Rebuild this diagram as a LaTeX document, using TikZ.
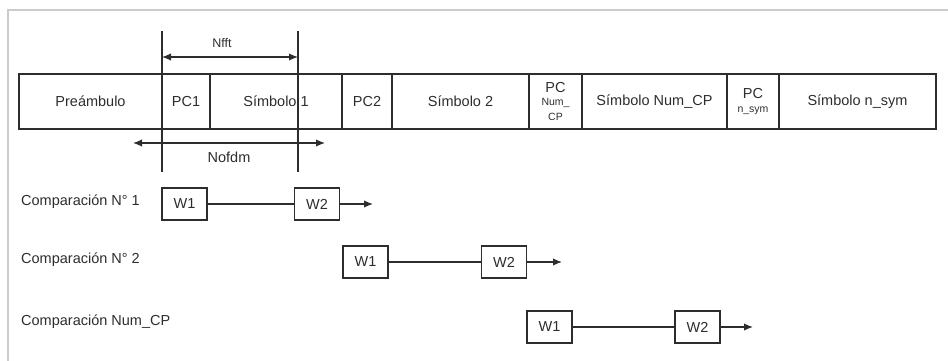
\documentclass[tikz,border=0pt]{standalone}
\usepackage{fontspec}
\setmainfont{Liberation Sans}
\usepackage{tikz}
\usetikzlibrary{arrows.meta,positioning,calc}
\definecolor{inkgrey}{RGB}{45,45,45}
\definecolor{framegrey}{RGB}{204,204,204}
\newcommand{\smallfnt}{\fontsize{10.5}{11}\selectfont}
\tikzset{
  base/.style={font=\fontsize{14.5}{17}\selectfont, align=center, inner sep=0pt, text=inkgrey},
  cell/.style={base, rectangle, draw=inkgrey, line width=1.4pt, minimum height=55pt, minimum width=#1},
  wbox/.style={base, rectangle, draw=inkgrey, line width=1.4pt, minimum height=32pt, minimum width=45pt},
  rowlbl/.style={base, anchor=west},
  arr/.style={-{Latex[length=9pt,width=7.5pt]}, line width=1.4pt, draw=inkgrey},
  arr2/.style={{Latex[length=9pt,width=7.5pt]}-{Latex[length=9pt,width=7.5pt]}, line width=1.4pt, draw=inkgrey},
  lnk/.style={line width=1.4pt, draw=inkgrey},
}
\begin{document}
\begin{tikzpicture}[x=1pt,y=-1pt]
  \useasboundingbox (0,0) rectangle (948,361);
  \draw[framegrey, line width=1.2pt] (948,10) -- (8,10) -- (8,361);
  % trama OFDM
  \node[cell=143pt] (pre)  at (90.5,101.5)  {Preámbulo};
  \node[cell=48pt]  (pc1)  at (186,101.5)   {PC1};
  \node[cell=132pt] (sym1) at (276,101.5)   {Símbolo 1};
  \node[cell=50pt]  (pc2)  at (367,101.5)   {PC2};
  \node[cell=137pt] (sym2) at (460.5,101.5) {Símbolo 2};
  \node[cell=53pt]  (pcn)  at (555.5,101.5) {PC\\[-4pt]\smallfnt Num\_\\[-1.5pt]\smallfnt CP};
  \node[cell=145pt] (symn) at (654.5,101.5) {Símbolo Num\_CP};
  \node[cell=52pt]  (pcs)  at (753,101.5)   {PC\\[-3.5pt]\smallfnt n\_sym};
  \node[cell=157pt] (syms) at (857.5,101.5) {Símbolo n\_sym};
  % marcas Nfft / Nofdm
  \coordinate (vt1) at (162,31);  \coordinate (vb1) at (162,172);
  \coordinate (vt2) at (298,31);  \coordinate (vb2) at (298,172);
  \draw[lnk] (vt1) -- (vb1);
  \draw[lnk] (vt2) -- (vb2);
  \coordinate (nf1) at (162,57);  \coordinate (nf2) at (298,57);
  \draw[arr2] (nf1) -- (nf2);
  \node[base, font=\fontsize{12.5}{14}\selectfont] (nfft) at (222,43) {Nfft};
  \coordinate (no1) at (133,143); \coordinate (no2) at (325,143);
  \draw[arr2] (no1) -- (no2);
  \node[base] (nofdm) at (229,157) {Nofdm};
  % comparaciones
  \node[rowlbl] (cmp1) at (21,202) {Comparación N° 1};
  \node[wbox] (w11) at (184.5,204) {W1};
  \node[wbox] (w12) at (317,204)   {W2};
  \coordinate (e1) at (373,204);
  \draw[lnk] (w11) -- (w12);
  \draw[arr] (w12) -- (e1);
  \node[rowlbl] (cmp2) at (21,260) {Comparación N° 2};
  \node[wbox] (w21) at (365.5,262) {W1};
  \node[wbox] (w22) at (504,262)   {W2};
  \coordinate (e2) at (562,262);
  \draw[lnk] (w21) -- (w22);
  \draw[arr] (w22) -- (e2);
  \node[rowlbl] (cmp3) at (21,322) {Comparación Num\_CP};
  \node[wbox] (w31) at (549.5,327) {W1};
  \node[wbox] (w32) at (697.5,327) {W2};
  \coordinate (e3) at (753,327);
  \draw[lnk] (w31) -- (w32);
  \draw[arr] (w32) -- (e3);
\end{tikzpicture}
\end{document}
